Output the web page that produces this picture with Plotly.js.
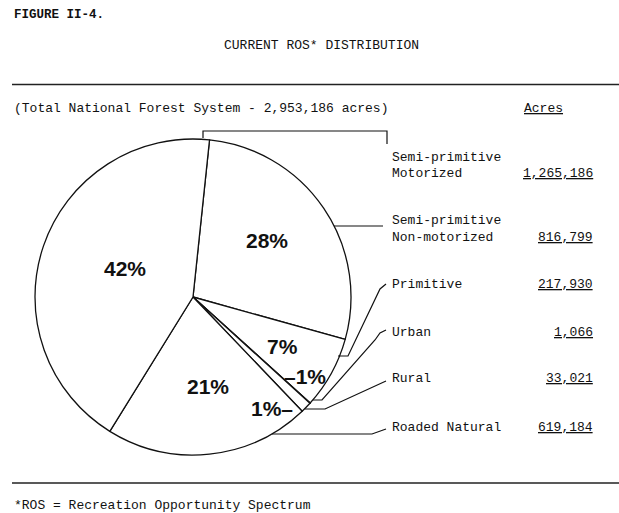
<!DOCTYPE html>
<html>
<head>
<meta charset="utf-8">
<script src="https://cdn.plot.ly/plotly-3.0.1.min.js"></script>
<style>html,body{margin:0;padding:0;background:#fff}#chart{width:619px;height:513px}</style>
</head>
<body>
<div id="chart"></div>
<script>
// ---- data ----
var categories = ["Semi-primitive Non-motorized", "Primitive", "Urban", "Rural", "Roaded Natural", "Semi-primitive Motorized"];
var acres = [816799, 217930, 1066, 33021, 619184, 1265186];
var pctLabels = ["28%", "7%", "\u20131%", "1%\u2013", "21%", "42%"];
var legendLines = [["Semi-primitive", "Motorized"], ["Semi-primitive", "Non-motorized"], ["Primitive"], ["Urban"], ["Rural"], ["Roaded Natural"]];
var legendValues = ["1,265,186", "816,799", "217,930", "1,066", "33,021", "619,184"];
var totalText = "(Total National Forest System - 2,953,186 acres)";

var W = 619, H = 513;
function X(p) { return p / W; }
function Y(p) { return 1 - p / H; }

var mono = "Liberation Mono, Courier New, monospace";
var sans = "Liberation Sans, Arial, sans-serif";

// pie geometry (pixels)
var cx = 193, cy = 297, r = 158;

var trace = {
  type: "pie",
  values: acres,
  labels: categories,
  sort: false,
  direction: "clockwise",
  rotation: 6,
  textinfo: "none",
  hoverinfo: "label+value+percent",
  showlegend: false,
  marker: { colors: categories.map(function(){return "#ffffff";}), line: { color: "#111", width: 1.3 } },
  domain: { x: [X(cx - r), X(cx + r)], y: [Y(cy + r), Y(cy - r)] }
};

var ann = [];
function txt(x, y, s, opt) {
  opt = opt || {};
  ann.push({
    xref: "paper", yref: "paper", x: X(x), y: Y(y), text: s, showarrow: false,
    xanchor: opt.xa || "left", yanchor: "middle",
    font: { family: opt.fam || mono, size: opt.size || 13, color: opt.color || "#111", weight: opt.weight || "normal" }
  });
}

txt(12, 15, "FIGURE II-4.", { weight: "bold", size: 12.5 });
txt(321, 45, "CURRENT ROS* DISTRIBUTION", { xa: "center" });
txt(12, 108, totalText);
txt(543, 108, "<u>Acres</u>", { xa: "center" });
txt(12, 505, "*ROS = Recreation Opportunity Spectrum");

// percentage labels (order matches categories)
var pctPos = [[267, 240], [282, 346], [305, 376], [272, 408], [208, 386], [125, 268]];
pctLabels.forEach(function (s, i) {
  txt(pctPos[i][0], pctPos[i][1], s, { xa: "center", fam: sans, size: 21, weight: "bold" });
});

// legend table
var rowY = [[157, 173], [220, 237], [284], [332], [378], [427]];
legendLines.forEach(function (lines, i) {
  lines.forEach(function (l, j) { txt(390, rowY[i][j], l); });
  txt(595, rowY[i][lines.length - 1], "<u>" + legendValues[i] + "</u>", { xa: "right" });
});

function path(pts) {
  var d = "M" + pts.map(function (p) { return X(p[0]) + "," + Y(p[1]); }).join(" L");
  return { type: "path", xref: "paper", yref: "paper", path: d, line: { color: "#111", width: 1.2 } };
}

var shapes = [
  { type: "line", xref: "paper", yref: "paper", x0: X(12), x1: 1, y0: Y(84.5), y1: Y(84.5), line: { color: "#222", width: 1.3 } },
  { type: "line", xref: "paper", yref: "paper", x0: X(12), x1: 1, y0: Y(483), y1: Y(483), line: { color: "#222", width: 1.3 } },
  path([[203, 138], [203, 131], [387, 131], [387, 144]]),
  path([[334, 226], [383, 226]]),
  path([[338, 356], [348, 356], [380, 289], [386, 284]]),
  path([[313, 400], [322, 400], [375, 340], [380, 333], [386, 330]]),
  path([[305, 409], [325, 409], [386, 381]]),
  path([[272, 434], [372, 434], [386, 429]])
];

var layout = {
  width: W, height: H,
  margin: { l: 0, r: 0, t: 0, b: 0 },
  paper_bgcolor: "#fff",
  showlegend: false,
  annotations: ann,
  shapes: shapes
};

Plotly.newPlot("chart", [trace], layout, { displayModeBar: false, staticPlot: true });
</script>
</body>
</html>
